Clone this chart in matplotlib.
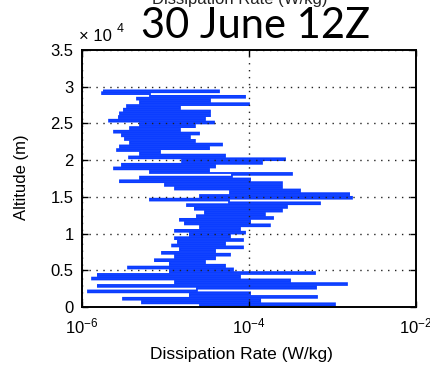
import numpy as np
import matplotlib
matplotlib.use("Agg")
import matplotlib.pyplot as plt
from matplotlib.ticker import FixedLocator, NullLocator

# Altitude samples of the profile (m)
altitude_m = np.arange(0, 29501, 250)

# Dissipation rate at each altitude sample (W/kg)
dissipation = [
    2.59e-5, 1.07e-3, 5.23e-6, 1.36e-4, 3.10e-6, 6.52e-4, 1.96e-5, 1.03e-4,
    1.18e-6, 2.38e-5, 6.35e-4, 1.55e-6, 1.49e-3, 1.30e-5, 3.10e-4, 1.32e-6,
    7.80e-5, 1.55e-6, 6.17e-4, 1.13e-5, 6.43e-5, 3.56e-6, 5.16e-5, 1.13e-5,
    2.97e-5, 7.48e-6, 3.92e-5, 1.30e-5, 5.92e-5, 9.08e-6, 3.92e-5, 1.49e-5,
    8.47e-5, 1.20e-5, 5.16e-5, 1.41e-5, 8.47e-5, 1.30e-5, 5.92e-5, 1.96e-5,
    8.96e-5, 1.30e-5, 7.80e-5, 2.59e-5, 1.78e-4, 1.71e-5, 1.03e-4, 1.49e-5,
    1.94e-4, 2.38e-5, 1.55e-4, 2.97e-5, 2.48e-4, 2.25e-5, 2.85e-4, 1.81e-5,
    7.08e-4, 5.76e-5, 6.52e-6, 1.71e-3, 2.59e-5, 1.58e-3, 5.92e-5, 4.08e-4,
    1.30e-5, 2.48e-4, 9.86e-6, 2.48e-4, 2.85e-6, 1.03e-4, 4.95e-6, 6.25e-5,
    3.27e-4, 6.52e-6, 3.32e-5, 2.42e-6, 3.92e-5, 3.01e-6, 1.43e-4, 1.58e-5,
    2.70e-4, 3.66e-6, 5.16e-5, 4.95e-6, 8.59e-6, 2.63e-6, 3.32e-5, 2.85e-6,
    4.75e-5, 3.76e-6, 2.25e-5, 3.27e-6, 1.96e-5, 3.01e-6, 2.52e-5, 2.42e-6,
    1.49e-5, 3.76e-6, 2.25e-5, 4.95e-6, 3.81e-5, 2.11e-6, 2.97e-5, 2.77e-6,
    3.41e-5, 2.85e-6, 3.41e-5, 3.18e-6, 1.49e-5, 3.46e-6, 1.00e-4, 4.95e-6,
    3.41e-5, 4.56e-6, 8.96e-5, 6.52e-6, 1.74e-6, 4.37e-5, 1.83e-6,
]

x_ticks = [1e-6, 1e-4, 1e-2]
x_tick_labels = ["$10^{-6}$", "$10^{-4}$", "$10^{-2}$"]
y_ticks = [0, 5000, 10000, 15000, 20000, 25000, 30000, 35000]
y_tick_labels = ["0", "0.5", "1", "1.5", "2", "2.5", "3", "3.5"]

title_text = "30 June 12Z"
axis_title = "Dissipation Rate (W/kg)"
y_title = "Altitude (m)"

plt.rcParams["font.family"] = ["Liberation Sans", "DejaVu Sans"]
plt.rcParams["mathtext.fontset"] = "custom"
plt.rcParams["mathtext.rm"] = "Liberation Sans"
plt.rcParams["mathtext.it"] = "Liberation Sans"

fig = plt.figure(figsize=(4.30, 3.69), dpi=100)
ax = fig.add_axes([82 / 430, 1 - 307 / 369, 334 / 430, 257 / 369])

# each sample is joined to the next by a level (constant-altitude) stroke
ax.plot(dissipation, altitude_m, color="#0b3dff", lw=1.3, drawstyle="steps-pre",
        solid_joinstyle="miter", snap=False, zorder=2)

ax.set_xscale("log")
ax.set_xlim(1e-6, 1e-2)
ax.set_ylim(0, 35000)
ax.xaxis.set_major_locator(FixedLocator(x_ticks))
ax.xaxis.set_minor_locator(NullLocator())
ax.set_xticklabels(x_tick_labels)
ax.yaxis.set_major_locator(FixedLocator(y_ticks))
ax.set_yticklabels(y_tick_labels)

ax.tick_params(direction="in", length=4, width=1, labelsize=12, pad=6,
               top=True, right=True, colors="black")
ax.tick_params(axis="x", pad=7, labelsize=12)

ax.grid(True, color="#222222", lw=1.0, linestyle=(0, (1, 4)), zorder=3)
ax.set_axisbelow(False)
for s in ax.spines.values():
    s.set_linewidth(1.4)
    s.set_zorder(4)

ax.set_xlabel(axis_title, fontsize=12.5)
ax.set_ylabel(y_title, fontsize=12)
ax.xaxis.set_label_coords((241 - 82) / 334, -(355 - 307) / 257, transform=ax.transAxes)
ax.yaxis.set_label_coords(-(82 - 22) / 334, (307 - 177) / 257, transform=ax.transAxes)
ax.xaxis.label.set_va("center")
ax.yaxis.label.set_va("center")

# multiplier for the altitude axis
fig.text(79 / 430, 1 - 41 / 369, "\u00d7 10", fontsize=12, ha="left",
         va="baseline")
fig.text(117 / 430, 1 - 32 / 369, "4", fontsize=9, ha="left", va="baseline")
# plot heading, partly out of frame, and the large date label over it
fig.text(240 / 430, 1 - 4 / 369, axis_title, fontsize=12, ha="center",
         va="baseline", color="#222222")
fig.text(256 / 430, 1 - 38 / 369, title_text, fontsize=30, ha="center",
         va="baseline", family=["Lato", "DejaVu Sans"])

fig.savefig("out.png", dpi=100)
